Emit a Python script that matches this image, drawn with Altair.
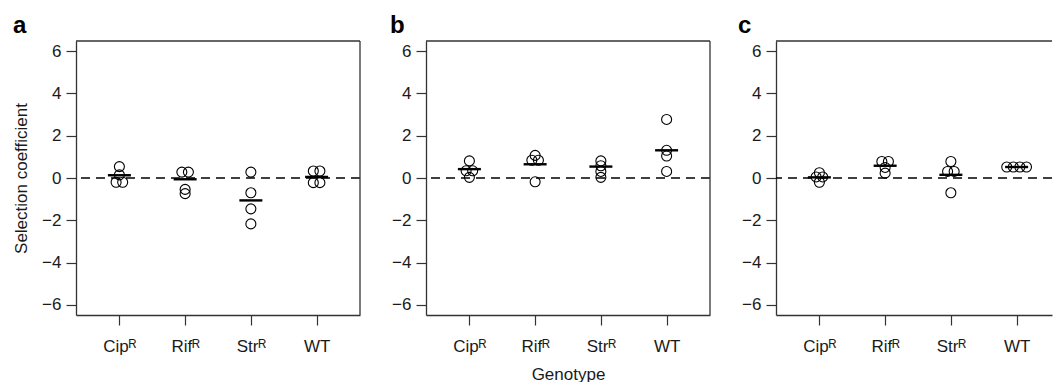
import altair as alt
import pandas as pd

# ---- data ----
genotypes = ["Cip", "Rif", "Str", "WT"]
superscripts = ["ᴿ", "ᴿ", "ᴿ", ""]
panel_letters = ["a", "b", "c"]

# replicate selection coefficients, one list per genotype (CipR, RifR, StrR, WT)
panel_a_values = [
    [0.54, 0.15, -0.20, -0.20],
    [0.28, 0.28, -0.54, -0.74],
    [0.28, -0.70, -1.46, -2.17],
    [0.33, 0.33, -0.22, -0.22],
]
panel_b_values = [
    [0.81, 0.34, 0.34, 0.03],
    [1.07, 0.84, 0.84, -0.18],
    [0.81, 0.58, 0.31, 0.03],
    [2.77, 1.31, 1.04, 0.31],
]
panel_c_values = [
    [0.25, 0.05, 0.05, -0.20],
    [0.78, 0.78, 0.50, 0.23],
    [0.78, 0.31, 0.31, -0.70],
    [0.52, 0.52, 0.52, 0.52],
]
# horizontal bars (group centres)
panel_a_lines = [0.13, -0.06, -1.06, 0.05]
panel_b_lines = [0.42, 0.65, 0.54, 1.31]
panel_c_lines = [0.03, 0.58, 0.15, 0.52]

y_ticks = [-6, -4, -2, 0, 2, 4, 6]

# ---- styling ----
FONT = "Liberation Sans"
INK = "#1a1a1a"
FRAME = "#333333"
STEP = 0.1          # horizontal stacking step for tied points
X_LO, X_HI = 0.34, 4.66
PANEL_W, PANEL_H = 284, 274
PX_PER_UNIT = PANEL_W / (X_HI - X_LO)

label_expr = "[" + ",".join("'" + g + s + "'" for g, s in zip(genotypes, superscripts)) + "][datum.value - 1]"


def points_frame(values):
    rows = []
    for gi, vals in enumerate(values):
        groups = {}
        for v in vals:
            groups.setdefault(v, []).append(v)
        for v, members in groups.items():
            n = len(members)
            for k in range(n):
                rows.append({"xj": gi + 1 + (k - (n - 1) / 2) * STEP, "value": v})
    return pd.DataFrame(rows)


def panel(letter, values, lines, width, letter_dx, y_title, x_title, right_border):
    x_hi = X_LO + width / PX_PER_UNIT
    x_enc = alt.X(
        "xj:Q",
        scale=alt.Scale(domain=[X_LO, x_hi], nice=False, zero=False),
        axis=alt.Axis(values=[1, 2, 3, 4], labelExpr=label_expr, title=x_title,
                      grid=False, tickSize=10, labelPadding=13, titlePadding=12),
    )
    y_enc = alt.Y(
        "value:Q",
        scale=alt.Scale(domain=[-6.48, 6.48], nice=False, zero=False),
        axis=alt.Axis(values=y_ticks, title=y_title, grid=False, tickSize=10,
                      labelPadding=5, titlePadding=11),
    )
    zero = alt.Chart(pd.DataFrame({"value": [0]})).mark_rule(
        color="black", strokeDash=[9, 6], strokeWidth=1.3
    ).encode(y=y_enc)
    pts = alt.Chart(points_frame(values)).mark_point(
        shape="circle", filled=False, size=100, color="black", strokeWidth=1.1, opacity=1
    ).encode(x=x_enc, y=y_enc)
    bars = alt.Chart(pd.DataFrame({"xj": [1, 2, 3, 4], "value": lines})).mark_tick(
        orient="horizontal", size=23, thickness=2.4, color="black", opacity=1
    ).encode(x=x_enc, y=y_enc)
    top = alt.Chart(pd.DataFrame({"v": [0]})).mark_rule(color=FRAME, strokeWidth=1.3).encode(
        x=alt.value(0), x2=alt.value(width), y=alt.value(0)
    )
    tag = alt.Chart(pd.DataFrame({"letter": [letter]})).mark_text(
        font=FONT, fontSize=24, fontWeight="bold", align="left", baseline="alphabetic",
        color="black"
    ).encode(text="letter:N", x=alt.value(letter_dx), y=alt.value(-8))
    layers = [zero, pts, bars, top, tag]
    if right_border:
        right = alt.Chart(pd.DataFrame({"v": [0]})).mark_rule(color=FRAME, strokeWidth=1.3).encode(
            x=alt.value(width), y=alt.value(0), y2=alt.value(PANEL_H)
        )
        layers.append(right)
    return alt.layer(*layers).properties(width=width, height=PANEL_H)


pa = panel(panel_letters[0], panel_a_values, panel_a_lines, PANEL_W, -63, "Selection coefficient", None, True)
pb = panel(panel_letters[1], panel_b_values, panel_b_lines, PANEL_W, -36, None, "Genotype", True)
pc = panel(panel_letters[2], panel_c_values, panel_c_lines, 1053 - 777, -38, None, None, False)

chart = alt.hconcat(pa, pb, pc, spacing=66, bounds="flush").properties(
    padding={"left": 12, "top": 14, "right": 0, "bottom": 0}
).configure_view(stroke=None).configure_axis(
    labelFont=FONT, titleFont=FONT, labelFontSize=17, titleFontSize=17,
    titleFontWeight="normal", labelColor=INK, titleColor=INK,
    domainColor=FRAME, tickColor=FRAME, domainWidth=1.3, tickWidth=1.2,
)

chart.save("out.html", embed_options={"renderer": "svg", "actions": False})
